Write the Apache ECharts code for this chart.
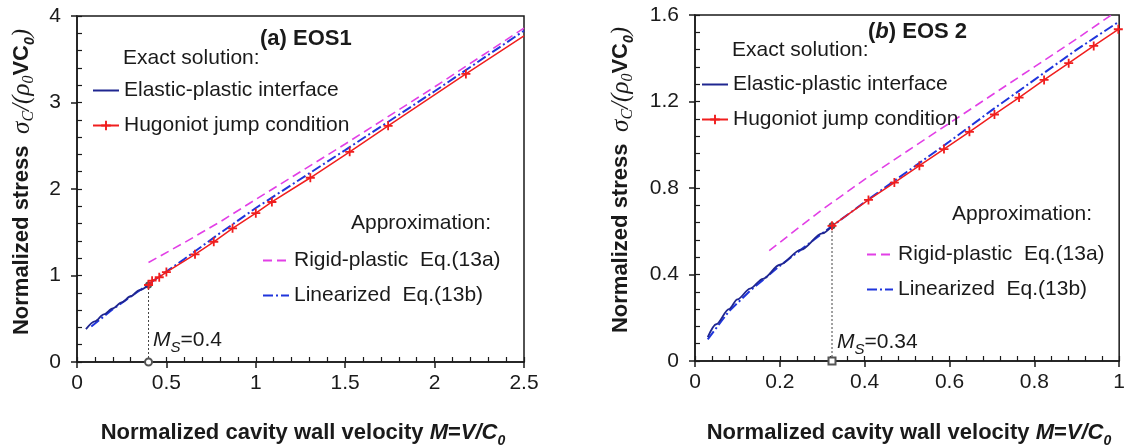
<!DOCTYPE html>
<html>
<head>
<meta charset="utf-8">
<script src="https://cdn.jsdelivr.net/npm/echarts@6/dist/echarts.min.js"></script>
<style>html,body{margin:0;padding:0;background:#fff}#c{width:1128px;height:446px}</style>
</head>
<body>
<div id="c"></div>
<script>
// ---------- DATA ----------
// Panel (a) EOS1
const epM1 = [0.05, 0.1, 0.15, 0.2, 0.25, 0.3, 0.35, 0.4];
const epS1 = [0.38, 0.47, 0.55, 0.62, 0.69, 0.76, 0.83, 0.89];
const hgM1 = [0.4, 0.42, 0.46, 0.5, 0.66, 0.765, 0.87, 1.0, 1.09, 1.305, 1.525, 1.74, 2.175, 2.5];
const hgS1 = [0.89, 0.94, 0.98, 1.04, 1.245, 1.39, 1.545, 1.72, 1.85, 2.13, 2.43, 2.73, 3.33, 3.77];
const rpM1 = [0.4, 0.6, 0.8, 1.0, 1.5, 2.0, 2.5];
const rpS1 = [1.15, 1.38, 1.62, 1.88, 2.52, 3.18, 3.86];
const lnM1 = [0.08, 0.2, 0.4, 0.6, 0.8, 1.0, 1.5, 2.0, 2.5];
const lnS1 = [0.41, 0.61, 0.90, 1.19, 1.49, 1.78, 2.45, 3.13, 3.83];
const msM1 = 0.4, msS1 = 0.89;
// Panel (b) EOS2
const epM2 = [0.03, 0.05, 0.08, 0.1, 0.13, 0.16, 0.2, 0.25, 0.3, 0.323];
const epS2 = [0.11, 0.17, 0.24, 0.285, 0.335, 0.38, 0.445, 0.515, 0.59, 0.625];
const hgM2 = [0.323, 0.409, 0.47, 0.529, 0.587, 0.647, 0.706, 0.764, 0.823, 0.881, 0.94, 0.998];
const hgS2 = [0.625, 0.745, 0.825, 0.903, 0.98, 1.06, 1.14, 1.218, 1.30, 1.377, 1.457, 1.534];
const rpM2 = [0.175, 0.25, 0.3, 0.4, 0.5, 0.6, 0.7, 0.8, 0.9, 1.0];
const rpS2 = [0.51, 0.625, 0.70, 0.84, 0.97, 1.1, 1.23, 1.36, 1.49, 1.625];
const lnM2 = [0.03, 0.08, 0.13, 0.2, 0.3, 0.4, 0.5, 0.6, 0.7, 0.8, 0.9, 1.0];
const lnS2 = [0.10, 0.23, 0.325, 0.44, 0.59, 0.735, 0.875, 1.015, 1.16, 1.3, 1.44, 1.57];
const msM2 = 0.323, msS2 = 0.625;
// Axis ranges / ticks (major interval, minor interval)
const xA = {min: 0, max: 2.5, interval: 0.5, minor: 0.1};
const yA = {min: 0, max: 4, interval: 1, minor: 0.2};
const xB = {min: 0, max: 1, interval: 0.2, minor: 0.04};
const yB = {min: 0, max: 1.6, interval: 0.4, minor: 0.08};
// Names
const N_EP = 'Elastic-plastic interface';
const N_HG = 'Hugoniot jump condition';
const N_RP = 'Rigid-plastic  Eq.(13a)';
const N_LN = 'Linearized  Eq.(13b)';

// ---------- STYLE ----------
const FONT = '"Liberation Sans", Arial, sans-serif';
const SERIF = '"Liberation Serif", "Times New Roman", serif';
const INK = '#1a1a1a';
const C_EP = '#1f2690', C_HG = '#f01e1e', C_RP = '#e23fe6', C_LN = '#1f35dc';
const PLUS = 'path://M4,0H6V4H10V6H6V10H4V6H0V4H4Z';

const zip = (a, b) => a.map((v, i) => [v, b[i]]);

function axes(dim, gi, r) {
  const main = {
    type: 'value', gridIndex: gi, min: r.min, max: r.max, interval: r.interval,
    axisLine: {show: true, lineStyle: {color: INK, width: 1.5}},
    axisTick: {show: true, inside: false, length: 6, lineStyle: {color: INK, width: 1.5}},
    axisLabel: {fontFamily: FONT, fontSize: 21, color: INK, margin: dim === 'x' ? 11 : 16},
    splitLine: {show: false}
  };
  const minor = {
    type: 'value', gridIndex: gi, min: r.min, max: r.max, interval: r.minor,
    axisLine: {show: false},
    axisTick: {show: true, inside: true, length: 5, lineStyle: {color: INK, width: 1.2}},
    axisLabel: {show: false},
    splitLine: {show: false}
  };
  if (dim === 'x') { main.position = minor.position = 'bottom'; }
  else { main.position = minor.position = 'left'; }
  minor.offset = main.offset = 0;
  return [main, minor];
}

function panelSeries(xi, d) {
  return [
    {name: N_RP, type: 'line', xAxisIndex: xi, yAxisIndex: xi, data: d.rp, symbol: 'none',
     lineStyle: {color: C_RP, width: 1.6, type: [9, 5]}, itemStyle: {color: C_RP}, z: 2},
    {name: N_LN, type: 'line', xAxisIndex: xi, yAxisIndex: xi, data: d.ln, symbol: 'none',
     lineStyle: {color: C_LN, width: 2, type: [10, 3, 2, 3]}, itemStyle: {color: C_LN}, z: 3},
    {name: N_EP, type: 'line', xAxisIndex: xi, yAxisIndex: xi, data: d.ep, symbol: 'none',
     smooth: 0.3, smoothMonotone: 'x',
     lineStyle: {color: C_EP, width: 1.8}, itemStyle: {color: C_EP}, z: 4},
    {name: N_HG, type: 'line', xAxisIndex: xi, yAxisIndex: xi, data: d.hg,
     symbol: PLUS, symbolSize: 9, showAllSymbol: true,
     lineStyle: {color: C_HG, width: 1.5}, itemStyle: {color: C_HG}, z: 5},
    {name: 'Ms', type: 'line', xAxisIndex: xi, yAxisIndex: xi, clip: false,
     data: [{value: [d.ms[0], 0], symbol: d.msSym, symbolSize: 7},
            {value: [d.ms[0], d.ms[1]], symbol: 'emptyCircle', symbolSize: 5}],
     lineStyle: {color: '#444', width: 1, type: [2, 2]}, itemStyle: {color: '#555', borderWidth: 1}, z: 1}
  ];
}

const hgA = zip(hgM1, hgS1).map((p, i, a) => i === a.length - 1 ? {value: p, symbol: 'none'} : p);

const noSym = {opacity: 0};
const legendBase = {
  orient: 'vertical', itemWidth: 26, itemHeight: 12, itemGap: 14, selectedMode: false, padding: 0,
  textStyle: {fontFamily: FONT, fontSize: 21, color: INK}
};
const exactItems = [{name: N_EP, itemStyle: noSym}, {name: N_HG}];
const approxItems = [{name: N_RP, itemStyle: noSym}, {name: N_LN, itemStyle: noSym}];

function rt(x, y, text, rich, extra) {
  return {type: 'text', x: x, y: y, silent: true,
    style: Object.assign({text: text, rich: rich, fill: INK, font: '21px ' + FONT, align: 'left', verticalAlign: 'middle'}, extra || {})};
}

const richTitle = {
  b: {fontFamily: FONT, fontSize: 22, fontWeight: 'bold', lineHeight: 30, verticalAlign: 'middle', fill: INK},
  bi: {fontFamily: FONT, fontSize: 22, fontWeight: 'bold', fontStyle: 'italic', lineHeight: 30, verticalAlign: 'middle', fill: INK},
  bs: {fontFamily: FONT, fontSize: 14, fontWeight: 'bold', fontStyle: 'italic', lineHeight: 16, verticalAlign: 'bottom', fill: INK},
  g: {fontFamily: SERIF, fontSize: 25, fontStyle: 'italic', lineHeight: 30, verticalAlign: 'middle', fill: INK},
  gs: {fontFamily: SERIF, fontSize: 16, fontStyle: 'italic', lineHeight: 16, verticalAlign: 'bottom', fill: INK},
  r: {fontFamily: FONT, fontSize: 21, lineHeight: 30, verticalAlign: 'middle', fill: INK},
  i: {fontFamily: FONT, fontSize: 21, fontStyle: 'italic', lineHeight: 30, verticalAlign: 'middle', fill: INK},
  is: {fontFamily: FONT, fontSize: 15, fontStyle: 'italic', lineHeight: 16, verticalAlign: 'bottom', fill: INK}
};

const yTitle = '{b|Normalized stress}{r|  }{g|σ}{gs|C}{g|/(ρ}{gs|0}{b|VC}{bs|0}{g|)}';
const xTitle = '{b|Normalized cavity wall velocity }{bi|M}{b|=}{bi|V/C}{bs|0}';

const option = {
  animation: false,
  backgroundColor: '#ffffff',
  grid: [
    {left: 77, top: 16, width: 447, height: 346, show: true, borderColor: INK, borderWidth: 1.5, backgroundColor: 'transparent'},
    {left: 695, top: 15, width: 427, height: 346, show: true, borderColor: INK, borderWidth: 1.5, backgroundColor: 'transparent'}
  ],
  xAxis: [...axes('x', 0, xA), ...axes('x', 1, xB)],
  yAxis: [...axes('y', 0, yA), ...axes('y', 1, yB)],
  legend: [
    Object.assign({}, legendBase, {left: 92, top: 80, data: exactItems}),
    Object.assign({}, legendBase, {left: 262, top: 250, data: approxItems}),
    Object.assign({}, legendBase, {left: 701, top: 74, data: exactItems}),
    Object.assign({}, legendBase, {left: 866, top: 244, data: approxItems})
  ],
  series: [
    ...panelSeries(0, {rp: zip(rpM1, rpS1), ln: zip(lnM1, lnS1), ep: zip(epM1, epS1), hg: hgA, ms: [msM1, msS1], msSym: 'emptyCircle'}),
    ...panelSeries(2, {rp: zip(rpM2, rpS2), ln: zip(lnM2, lnS2), ep: zip(epM2, epS2), hg: zip(hgM2, hgS2), ms: [msM2, msS2], msSym: 'emptyRect'})
  ],
  graphic: [
    rt(260, 39, '{b|(a) EOS1}', richTitle),
    rt(868, 32, '{b|(}{bi|b}{b|) EOS 2}', richTitle),
    rt(123, 58, 'Exact solution:', null),
    rt(732, 50, 'Exact solution:', null),
    rt(351, 223, 'Approximation:', null),
    rt(952, 214, 'Approximation:', null),
    rt(153, 340, '{i|M}{is|S}{r|=0.4}', richTitle),
    rt(837, 342, '{i|M}{is|S}{r|=0.34}', richTitle),
    rt(303, 433, xTitle, richTitle, {align: 'center'}),
    rt(909, 433, xTitle, richTitle, {align: 'center'}),
    Object.assign(rt(0, 0, yTitle, richTitle, {align: 'center'}), {x: 22, y: 182, rotation: Math.PI / 2}),
    Object.assign(rt(0, 0, yTitle, richTitle, {align: 'center'}), {x: 621, y: 180, rotation: Math.PI / 2})
  ]
};

const chart = echarts.init(document.getElementById('c'), null, {renderer: 'canvas'});
chart.setOption(option);
</script>
</body>
</html>
